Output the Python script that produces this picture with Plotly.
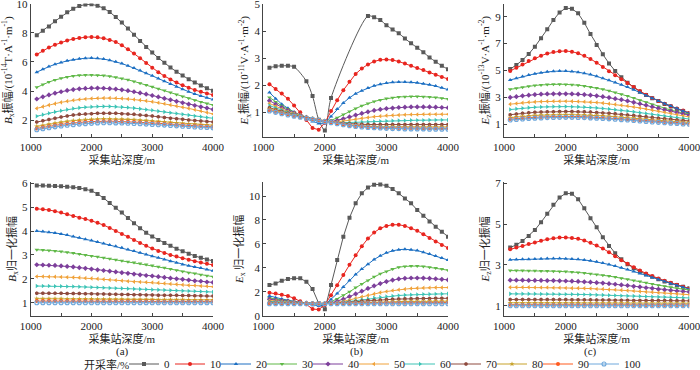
import plotly.graph_objects as go

FONT = "Liberation Serif, Times New Roman, Noto Sans CJK SC, serif"

depth = [1100, 1200, 1300, 1400, 1500, 1600, 1700, 1800, 1900, 2000,
         2100, 2200, 2300, 2400, 2500, 2600, 2700, 2800, 2900, 3000,
         3100, 3200, 3300, 3400, 3500, 3600, 3700, 3800, 3900, 4000]
rates = ["0", "10", "20", "30", "40", "50", "60", "70", "80", "90", "100"]

# (a) top: Bx amplitude
bx_amp = [
    [7.85, 8.15, 8.45, 8.8, 9.12, 9.42, 9.67, 9.86, 9.96, 9.97, 9.88, 9.7, 9.44, 9.1, 8.72, 8.3, 7.88, 7.45, 7.04, 6.65, 6.28, 5.94, 5.62, 5.33, 5.06, 4.81, 4.59, 4.38, 4.19, 4.02],
    [6.52, 6.78, 7.0, 7.18, 7.34, 7.48, 7.58, 7.66, 7.71, 7.73, 7.7, 7.63, 7.52, 7.38, 7.15, 6.88, 6.58, 6.26, 5.93, 5.6, 5.3, 5.03, 4.79, 4.58, 4.39, 4.22, 4.07, 3.94, 3.83, 3.73],
    [5.3, 5.5, 5.68, 5.84, 5.97, 6.08, 6.16, 6.22, 6.26, 6.27, 6.25, 6.2, 6.12, 6.02, 5.89, 5.74, 5.58, 5.41, 5.23, 5.05, 4.86, 4.67, 4.48, 4.3, 4.12, 3.95, 3.8, 3.66, 3.53, 3.41],
    [4.25, 4.45, 4.62, 4.76, 4.88, 4.97, 5.04, 5.08, 5.1, 5.1, 5.09, 5.06, 5.01, 4.94, 4.86, 4.77, 4.66, 4.54, 4.42, 4.3, 4.16, 4.03, 3.89, 3.76, 3.62, 3.5, 3.37, 3.25, 3.14, 3.03],
    [3.45, 3.6, 3.73, 3.85, 3.95, 4.04, 4.1, 4.15, 4.18, 4.2, 4.2, 4.19, 4.17, 4.13, 4.08, 4.02, 3.95, 3.87, 3.78, 3.69, 3.59, 3.49, 3.39, 3.29, 3.19, 3.09, 3.0, 2.91, 2.82, 2.73],
    [2.8, 2.92, 3.03, 3.13, 3.22, 3.3, 3.36, 3.41, 3.45, 3.48, 3.5, 3.51, 3.51, 3.5, 3.48, 3.45, 3.41, 3.37, 3.32, 3.26, 3.19, 3.12, 3.04, 2.96, 2.88, 2.8, 2.71, 2.62, 2.52, 2.42],
    [2.26, 2.37, 2.47, 2.56, 2.64, 2.72, 2.79, 2.84, 2.88, 2.91, 2.93, 2.94, 2.94, 2.92, 2.89, 2.86, 2.82, 2.77, 2.72, 2.67, 2.61, 2.56, 2.5, 2.45, 2.39, 2.34, 2.28, 2.23, 2.17, 2.12],
    [1.86, 1.95, 2.04, 2.13, 2.21, 2.28, 2.34, 2.39, 2.42, 2.44, 2.46, 2.47, 2.47, 2.46, 2.44, 2.42, 2.39, 2.35, 2.31, 2.27, 2.22, 2.18, 2.13, 2.09, 2.05, 2.01, 1.97, 1.94, 1.9, 1.87],
    [1.56, 1.64, 1.72, 1.79, 1.86, 1.91, 1.96, 2.0, 2.03, 2.05, 2.07, 2.08, 2.08, 2.07, 2.06, 2.04, 2.02, 1.99, 1.97, 1.94, 1.9, 1.87, 1.83, 1.8, 1.77, 1.74, 1.71, 1.68, 1.66, 1.64],
    [1.42, 1.5, 1.57, 1.64, 1.7, 1.75, 1.8, 1.84, 1.87, 1.89, 1.91, 1.92, 1.92, 1.91, 1.9, 1.88, 1.86, 1.84, 1.82, 1.8, 1.77, 1.74, 1.71, 1.68, 1.65, 1.62, 1.6, 1.58, 1.55, 1.53],
    [1.33, 1.4, 1.47, 1.53, 1.59, 1.64, 1.68, 1.72, 1.75, 1.77, 1.8, 1.81, 1.81, 1.8, 1.79, 1.78, 1.76, 1.74, 1.72, 1.7, 1.67, 1.65, 1.62, 1.6, 1.57, 1.55, 1.52, 1.5, 1.48, 1.46],
]

# (b) top: Ex amplitude (None = no point drawn)
ex_amp = [
    [2.65, 2.7, 2.72, 2.72, 2.68, None, 2.15, 1.6, 0.73, 0.33, 1.53, None, None, None, None, None, 4.56, 4.51, 4.41, 4.22, 4.06, 3.92, 3.73, 3.55, 3.39, 3.22, 3.03, 2.87, 2.72, 2.59],
    [2.04, 1.86, 1.7, 1.5, 1.25, 1.0, 0.72, 0.42, 0.36, 0.62, 1.05, 1.45, 1.82, 2.13, 2.42, 2.62, 2.77, 2.88, 2.94, 2.95, 2.93, 2.88, 2.8, 2.72, 2.64, 2.56, 2.47, 2.39, 2.31, 2.23],
    [1.73, 1.5, 1.3, 1.15, 1.0, 0.87, 0.76, 0.66, 0.59, 0.6, 0.85, 1.12, 1.35, 1.54, 1.69, 1.8, 1.9, 1.98, 2.04, 2.08, 2.11, 2.12, 2.12, 2.11, 2.09, 2.06, 2.02, 1.97, 1.91, 1.84],
    [1.55, 1.38, 1.24, 1.12, 1.0, 0.9, 0.81, 0.73, 0.67, 0.64, 0.7, 0.8, 0.92, 1.03, 1.14, 1.24, 1.33, 1.4, 1.46, 1.51, 1.54, 1.57, 1.58, 1.59, 1.59, 1.58, 1.57, 1.55, 1.52, 1.49],
    [1.43, 1.3, 1.18, 1.07, 0.98, 0.9, 0.82, 0.75, 0.69, 0.65, 0.66, 0.7, 0.76, 0.83, 0.9, 0.96, 1.02, 1.07, 1.11, 1.14, 1.16, 1.18, 1.19, 1.2, 1.2, 1.2, 1.2, 1.19, 1.18, 1.17],
    [1.33, 1.22, 1.12, 1.03, 0.96, 0.89, 0.82, 0.76, 0.71, 0.66, 0.64, 0.65, 0.68, 0.71, 0.75, 0.78, 0.81, 0.84, 0.86, 0.88, 0.89, 0.9, 0.91, 0.92, 0.92, 0.93, 0.93, 0.93, 0.93, 0.93],
    [1.25, 1.16, 1.08, 1.0, 0.93, 0.87, 0.81, 0.76, 0.71, 0.67, 0.64, 0.62, 0.62, 0.62, 0.63, 0.64, 0.65, 0.66, 0.67, 0.68, 0.69, 0.7, 0.7, 0.71, 0.71, 0.71, 0.72, 0.72, 0.72, 0.72],
    [1.17, 1.1, 1.03, 0.97, 0.91, 0.86, 0.81, 0.77, 0.73, 0.69, 0.65, 0.62, 0.6, 0.58, 0.57, 0.56, 0.55, 0.55, 0.55, 0.55, 0.55, 0.55, 0.55, 0.55, 0.55, 0.55, 0.55, 0.55, 0.55, 0.55],
    [1.12, 1.06, 1.0, 0.94, 0.89, 0.84, 0.8, 0.76, 0.72, 0.68, 0.64, 0.6, 0.57, 0.54, 0.52, 0.5, 0.49, 0.48, 0.47, 0.47, 0.47, 0.46, 0.46, 0.46, 0.46, 0.46, 0.46, 0.46, 0.46, 0.46],
    [1.08, 1.02, 0.97, 0.92, 0.87, 0.83, 0.79, 0.75, 0.71, 0.67, 0.63, 0.59, 0.56, 0.53, 0.5, 0.48, 0.46, 0.45, 0.44, 0.43, 0.43, 0.42, 0.42, 0.42, 0.42, 0.41, 0.41, 0.41, 0.41, 0.41],
    [1.05, 1.0, 0.95, 0.9, 0.86, 0.82, 0.78, 0.74, 0.7, 0.66, 0.62, 0.58, 0.54, 0.51, 0.48, 0.46, 0.44, 0.43, 0.42, 0.41, 0.4, 0.4, 0.39, 0.39, 0.39, 0.39, 0.38, 0.38, 0.38, 0.38],
]

# (c) top: Ez amplitude
ez_amp = [
    [5.11, 5.41, 5.78, 6.23, 6.77, 7.39, 8.06, 8.75, 9.32, 9.64, 9.59, 9.25, 8.55, 7.71, 6.9, 6.2, 5.53, 4.97, 4.5, 4.1, 3.75, 3.43, 3.18, 2.94, 2.74, 2.51, 2.32, 2.12, 2.0, 1.82],
    [4.97, 5.2, 5.45, 5.7, 5.92, 6.1, 6.26, 6.37, 6.43, 6.45, 6.4, 6.28, 6.1, 5.86, 5.58, 5.27, 4.95, 4.65, 4.36, 4.07, 3.77, 3.47, 3.2, 2.96, 2.74, 2.54, 2.36, 2.18, 2.02, 1.84],
    [4.3, 4.42, 4.55, 4.66, 4.76, 4.84, 4.9, 4.94, 4.96, 4.96, 4.93, 4.88, 4.8, 4.7, 4.57, 4.43, 4.27, 4.11, 3.94, 3.77, 3.57, 3.36, 3.15, 2.94, 2.74, 2.54, 2.36, 2.18, 2.0, 1.82],
    [3.6, 3.68, 3.76, 3.83, 3.89, 3.93, 3.96, 3.98, 3.98, 3.97, 3.95, 3.91, 3.85, 3.78, 3.7, 3.6, 3.49, 3.37, 3.24, 3.1, 2.95, 2.8, 2.64, 2.48, 2.33, 2.19, 2.06, 1.95, 1.85, 1.76],
    [3.0, 3.06, 3.12, 3.17, 3.21, 3.24, 3.26, 3.27, 3.27, 3.27, 3.26, 3.24, 3.21, 3.17, 3.12, 3.06, 2.99, 2.91, 2.83, 2.74, 2.64, 2.53, 2.42, 2.3, 2.19, 2.08, 1.98, 1.88, 1.78, 1.68],
    [2.5, 2.55, 2.6, 2.64, 2.67, 2.69, 2.71, 2.72, 2.72, 2.72, 2.71, 2.7, 2.68, 2.65, 2.62, 2.58, 2.53, 2.48, 2.42, 2.36, 2.29, 2.22, 2.14, 2.06, 1.98, 1.9, 1.82, 1.73, 1.64, 1.55],
    [2.1, 2.15, 2.2, 2.24, 2.27, 2.29, 2.31, 2.32, 2.32, 2.32, 2.31, 2.3, 2.28, 2.25, 2.22, 2.18, 2.14, 2.09, 2.04, 1.99, 1.93, 1.87, 1.8, 1.74, 1.68, 1.62, 1.56, 1.5, 1.45, 1.4],
    [1.72, 1.77, 1.82, 1.86, 1.89, 1.91, 1.93, 1.94, 1.95, 1.95, 1.95, 1.94, 1.93, 1.91, 1.88, 1.85, 1.82, 1.78, 1.74, 1.7, 1.65, 1.61, 1.56, 1.51, 1.46, 1.42, 1.37, 1.33, 1.29, 1.25],
    [1.5, 1.55, 1.59, 1.63, 1.66, 1.68, 1.7, 1.71, 1.72, 1.72, 1.72, 1.71, 1.7, 1.68, 1.66, 1.63, 1.6, 1.57, 1.53, 1.5, 1.46, 1.42, 1.38, 1.34, 1.3, 1.27, 1.23, 1.2, 1.17, 1.14],
    [1.39, 1.43, 1.47, 1.5, 1.53, 1.55, 1.57, 1.58, 1.59, 1.59, 1.59, 1.58, 1.57, 1.55, 1.53, 1.51, 1.48, 1.45, 1.42, 1.38, 1.35, 1.31, 1.28, 1.24, 1.21, 1.17, 1.14, 1.11, 1.08, 1.05],
    [1.32, 1.36, 1.4, 1.43, 1.46, 1.48, 1.5, 1.51, 1.52, 1.52, 1.52, 1.51, 1.5, 1.48, 1.46, 1.44, 1.41, 1.38, 1.35, 1.32, 1.29, 1.25, 1.22, 1.18, 1.15, 1.12, 1.09, 1.06, 1.03, 1.0],
]

# (a) bottom: Bx normalized amplitude
bx_norm = [
    [5.9, 5.9, 5.89, 5.88, 5.87, 5.85, 5.83, 5.8, 5.75, 5.68, 5.55, 5.38, 5.17, 4.97, 4.77, 4.55, 4.33, 4.12, 3.93, 3.77, 3.63, 3.5, 3.38, 3.26, 3.15, 3.05, 2.96, 2.88, 2.81, 2.75],
    [4.93, 4.91, 4.88, 4.83, 4.77, 4.7, 4.63, 4.56, 4.5, 4.43, 4.35, 4.25, 4.13, 4.0, 3.88, 3.76, 3.63, 3.5, 3.38, 3.27, 3.17, 3.08, 3.0, 2.93, 2.86, 2.8, 2.74, 2.68, 2.63, 2.58],
    [4.0, 3.98, 3.95, 3.92, 3.88, 3.83, 3.77, 3.72, 3.66, 3.6, 3.54, 3.48, 3.42, 3.36, 3.3, 3.23, 3.16, 3.09, 3.02, 2.95, 2.88, 2.81, 2.74, 2.67, 2.6, 2.55, 2.5, 2.45, 2.39, 2.34],
    [3.22, 3.21, 3.19, 3.17, 3.14, 3.11, 3.08, 3.04, 3.0, 2.96, 2.92, 2.88, 2.84, 2.8, 2.76, 2.72, 2.68, 2.64, 2.6, 2.56, 2.51, 2.46, 2.41, 2.36, 2.31, 2.26, 2.22, 2.17, 2.13, 2.09],
    [2.59, 2.58, 2.57, 2.56, 2.54, 2.52, 2.5, 2.47, 2.44, 2.41, 2.38, 2.35, 2.32, 2.29, 2.26, 2.23, 2.2, 2.17, 2.14, 2.12, 2.09, 2.06, 2.03, 2.0, 1.98, 1.95, 1.92, 1.9, 1.87, 1.85],
    [2.1, 2.1, 2.09, 2.09, 2.08, 2.07, 2.06, 2.05, 2.03, 2.02, 2.0, 1.98, 1.96, 1.94, 1.92, 1.9, 1.88, 1.87, 1.86, 1.85, 1.83, 1.81, 1.79, 1.77, 1.75, 1.73, 1.72, 1.7, 1.69, 1.67],
    [1.7, 1.7, 1.7, 1.69, 1.69, 1.68, 1.68, 1.67, 1.66, 1.65, 1.64, 1.63, 1.62, 1.61, 1.6, 1.59, 1.58, 1.57, 1.56, 1.55, 1.54, 1.53, 1.52, 1.51, 1.5, 1.49, 1.48, 1.47, 1.46, 1.45],
    [1.4, 1.4, 1.4, 1.4, 1.4, 1.39, 1.39, 1.39, 1.38, 1.38, 1.37, 1.37, 1.36, 1.36, 1.35, 1.35, 1.34, 1.34, 1.33, 1.33, 1.32, 1.32, 1.31, 1.31, 1.3, 1.3, 1.29, 1.29, 1.28, 1.28],
    [1.17, 1.17, 1.17, 1.17, 1.17, 1.16, 1.16, 1.16, 1.16, 1.16, 1.15, 1.15, 1.15, 1.15, 1.15, 1.14, 1.14, 1.14, 1.14, 1.14, 1.13, 1.13, 1.13, 1.13, 1.13, 1.12, 1.12, 1.12, 1.12, 1.12],
    [1.07, 1.07, 1.07, 1.07, 1.07, 1.07, 1.07, 1.07, 1.07, 1.06, 1.06, 1.06, 1.06, 1.06, 1.06, 1.06, 1.06, 1.06, 1.06, 1.06, 1.05, 1.05, 1.05, 1.05, 1.05, 1.05, 1.05, 1.05, 1.05, 1.05],
    [1.0, 1.0, 1.0, 1.0, 1.0, 1.0, 1.0, 1.0, 1.0, 1.0, 1.0, 1.0, 1.0, 1.0, 1.0, 1.0, 1.0, 1.0, 1.0, 1.0, 1.0, 1.0, 1.0, 1.0, 1.0, 1.0, 1.0, 1.0, 1.0, 1.0],
]

# (b) bottom: Ex normalized amplitude
ex_norm = [
    [2.56, 2.7, 2.92, 3.06, 3.12, 3.12, 2.84, 2.23, 1.03, 0.53, 2.56, 4.65, 6.6, 8.19, 9.39, 10.22, 10.72, 10.95, 10.97, 10.86, 10.58, 10.22, 9.8, 9.39, 8.83, 8.36, 7.86, 7.44, 7.02, 6.6],
    [1.92, 1.85, 1.75, 1.65, 1.45, 1.2, 0.95, 0.55, 0.52, 0.9, 1.7, 2.55, 3.4, 4.25, 5.05, 5.8, 6.45, 6.95, 7.3, 7.5, 7.6, 7.6, 7.5, 7.3, 7.1, 6.8, 6.5, 6.2, 5.9, 5.65],
    [1.65, 1.5, 1.4, 1.3, 1.2, 1.1, 0.98, 0.88, 0.82, 0.9, 1.35, 1.85, 2.4, 2.95, 3.45, 3.9, 4.3, 4.7, 5.0, 5.25, 5.42, 5.52, 5.55, 5.52, 5.45, 5.3, 5.15, 4.98, 4.83, 4.65],
    [1.48, 1.38, 1.3, 1.24, 1.17, 1.1, 1.04, 0.98, 0.96, 0.97, 1.15, 1.4, 1.7, 2.0, 2.35, 2.65, 2.95, 3.25, 3.5, 3.7, 3.9, 4.05, 4.12, 4.15, 4.15, 4.12, 4.05, 3.98, 3.9, 3.8],
    [1.38, 1.3, 1.24, 1.19, 1.14, 1.1, 1.06, 1.02, 1.0, 0.99, 1.07, 1.2, 1.38, 1.6, 1.82, 2.05, 2.28, 2.5, 2.68, 2.85, 2.98, 3.07, 3.12, 3.15, 3.15, 3.14, 3.12, 3.08, 3.04, 3.0],
    [1.27, 1.22, 1.18, 1.15, 1.12, 1.09, 1.06, 1.04, 1.02, 1.0, 1.03, 1.1, 1.2, 1.32, 1.45, 1.58, 1.7, 1.82, 1.93, 2.02, 2.1, 2.17, 2.22, 2.27, 2.3, 2.32, 2.34, 2.35, 2.35, 2.35],
    [1.19, 1.16, 1.13, 1.11, 1.09, 1.07, 1.05, 1.03, 1.02, 1.01, 1.03, 1.07, 1.13, 1.2, 1.28, 1.35, 1.42, 1.49, 1.55, 1.6, 1.65, 1.69, 1.72, 1.75, 1.77, 1.79, 1.8, 1.81, 1.82, 1.83],
    [1.12, 1.1, 1.08, 1.07, 1.06, 1.05, 1.04, 1.03, 1.02, 1.02, 1.03, 1.06, 1.1, 1.14, 1.18, 1.22, 1.26, 1.29, 1.32, 1.35, 1.37, 1.39, 1.41, 1.42, 1.43, 1.44, 1.44, 1.45, 1.45, 1.45],
    [1.07, 1.06, 1.05, 1.04, 1.04, 1.03, 1.03, 1.02, 1.01, 1.01, 1.02, 1.03, 1.05, 1.07, 1.09, 1.1, 1.12, 1.13, 1.15, 1.16, 1.17, 1.18, 1.19, 1.19, 1.2, 1.2, 1.21, 1.21, 1.21, 1.21],
    [1.03, 1.03, 1.02, 1.02, 1.02, 1.01, 1.01, 1.01, 1.01, 1.0, 1.01, 1.02, 1.03, 1.04, 1.05, 1.05, 1.06, 1.07, 1.07, 1.08, 1.08, 1.08, 1.09, 1.09, 1.09, 1.09, 1.1, 1.1, 1.1, 1.1],
    [1.0, 1.0, 1.0, 1.0, 1.0, 1.0, 1.0, 1.0, 1.0, 1.0, 1.0, 1.0, 1.0, 1.0, 1.0, 1.0, 1.0, 1.0, 1.0, 1.0, 1.0, 1.0, 1.0, 1.0, 1.0, 1.0, 1.0, 1.0, 1.0, 1.0],
]

# (c) bottom: Ez normalized amplitude
ez_norm = [
    [3.85, 3.98, 4.17, 4.42, 4.71, 5.09, 5.5, 5.94, 6.3, 6.51, 6.48, 6.22, 5.77, 5.28, 4.84, 4.35, 3.93, 3.57, 3.27, 3.03, 2.83, 2.67, 2.54, 2.42, 2.29, 2.18, 2.1, 2.02, 1.93, 1.85],
    [3.76, 3.85, 3.93, 4.02, 4.1, 4.18, 4.25, 4.3, 4.34, 4.34, 4.32, 4.28, 4.2, 4.08, 3.95, 3.8, 3.62, 3.42, 3.23, 3.05, 2.88, 2.72, 2.58, 2.45, 2.33, 2.22, 2.12, 2.03, 1.93, 1.83],
    [3.25, 3.26, 3.27, 3.28, 3.29, 3.3, 3.31, 3.31, 3.31, 3.3, 3.29, 3.27, 3.24, 3.2, 3.15, 3.09, 3.02, 2.94, 2.86, 2.77, 2.68, 2.58, 2.48, 2.38, 2.28, 2.18, 2.08, 1.99, 1.9, 1.81],
    [2.72, 2.72, 2.72, 2.71, 2.71, 2.7, 2.7, 2.69, 2.68, 2.67, 2.65, 2.63, 2.6, 2.57, 2.53, 2.49, 2.45, 2.4, 2.35, 2.3, 2.24, 2.18, 2.12, 2.06, 2.0, 1.95, 1.9, 1.85, 1.81, 1.77],
    [2.25, 2.25, 2.25, 2.24, 2.24, 2.24, 2.23, 2.23, 2.22, 2.21, 2.2, 2.19, 2.17, 2.15, 2.13, 2.11, 2.08, 2.05, 2.02, 1.99, 1.95, 1.92, 1.88, 1.85, 1.81, 1.78, 1.75, 1.72, 1.7, 1.67],
    [1.9, 1.9, 1.9, 1.9, 1.89, 1.89, 1.89, 1.88, 1.88, 1.87, 1.86, 1.86, 1.85, 1.84, 1.82, 1.81, 1.79, 1.78, 1.76, 1.74, 1.72, 1.7, 1.68, 1.66, 1.64, 1.62, 1.6, 1.58, 1.56, 1.54],
    [1.58, 1.58, 1.58, 1.58, 1.58, 1.57, 1.57, 1.57, 1.56, 1.56, 1.56, 1.55, 1.55, 1.54, 1.53, 1.52, 1.51, 1.5, 1.49, 1.48, 1.47, 1.46, 1.45, 1.44, 1.43, 1.42, 1.41, 1.4, 1.39, 1.38],
    [1.3, 1.3, 1.3, 1.3, 1.3, 1.3, 1.3, 1.3, 1.3, 1.3, 1.29, 1.29, 1.29, 1.29, 1.28, 1.28, 1.28, 1.27, 1.27, 1.27, 1.26, 1.26, 1.26, 1.25, 1.25, 1.25, 1.25, 1.24, 1.24, 1.24],
    [1.14, 1.14, 1.14, 1.14, 1.14, 1.14, 1.14, 1.14, 1.14, 1.14, 1.14, 1.14, 1.13, 1.13, 1.13, 1.13, 1.13, 1.13, 1.13, 1.13, 1.12, 1.12, 1.12, 1.12, 1.12, 1.12, 1.12, 1.12, 1.12, 1.12],
    [1.05, 1.05, 1.05, 1.05, 1.05, 1.05, 1.05, 1.05, 1.05, 1.05, 1.05, 1.05, 1.05, 1.05, 1.05, 1.05, 1.05, 1.05, 1.05, 1.05, 1.04, 1.04, 1.04, 1.04, 1.04, 1.04, 1.04, 1.04, 1.04, 1.04],
    [1.0, 1.0, 1.0, 1.0, 1.0, 1.0, 1.0, 1.0, 1.0, 1.0, 1.0, 1.0, 1.0, 1.0, 1.0, 1.0, 1.0, 1.0, 1.0, 1.0, 1.0, 1.0, 1.0, 1.0, 1.0, 1.0, 1.0, 1.0, 1.0, 1.0],
]

x_ticks = [1000, 1500, 2000, 2500, 3000, 3500, 4000]
x_ticktext = ["1000", "", "2000", "", "3000", "", "4000"]

colors = ["#595959", "#e8251f", "#1c6fc2", "#5fb847", "#7d3f9b", "#f0a23a",
          "#3cc3b5", "#8e4a3e", "#c7a22a", "#ff5a1f", "#6fa8dc"]
symbols = ["square", "circle", "triangle-up", "triangle-down", "diamond",
           "triangle-left", "triangle-right", "hexagon", "star", "circle", "circle-open"]

panels = [
    (bx_amp, 1, [0.83, 10.03], [2, 4, 6, 8, 10],
     "<i>B</i><sub>x</sub>振幅/(10<sup>-14</sup>T·A<sup>-1</sup>·m<sup>-1</sup>)"),
    (ex_amp, 2, [0.09, 5.02], [1, 2, 3, 4, 5],
     "<i>E</i><sub>x</sub>振幅/(10<sup>-11</sup>V·A<sup>-1</sup>·m<sup>-2</sup>)"),
    (ez_amp, 3, [0.06, 9.98], [1, 3, 5, 7, 9],
     "<i>E</i><sub>z</sub>振幅/(10<sup>-13</sup>V·A<sup>-1</sup>·m<sup>-2</sup>)"),
    (bx_norm, 4, [0.46, 6.05], [1, 2, 3, 4, 5, 6],
     "<i>B</i><sub>x</sub>归一化振幅"),
    (ex_norm, 5, [0, 11.17], [0, 2, 4, 6, 8, 10],
     "<i>E</i><sub>x</sub> 归一化振幅"),
    (ez_norm, 6, [0.51, 7.06], [1, 3, 5, 7],
     "<i>E</i><sub>z</sub>归一化振幅"),
]

W, H = 700, 370
col_px = [(30.7, 213.0), (263.3, 448.0), (504.0, 689.3)]
row_px = [(3.5, 137.0), (182.0, 315.7)]

fig = go.Figure()
layout = dict(
    width=W, height=H,
    margin=dict(l=0, r=0, t=0, b=0, autoexpand=False),
    paper_bgcolor="white", plot_bgcolor="white",
    font=dict(family=FONT, size=11, color="#222222"),
    showlegend=True,
)

for data, k, yr, yt, ytitle in panels:
    col = (k - 1) % 3
    row = (k - 1) // 3
    xs = "x" if k == 1 else "x%d" % k
    ys = "y" if k == 1 else "y%d" % k
    for i, series in enumerate(data):
        spline = (k == 2 and i == 0)
        fig.add_trace(go.Scatter(
            x=depth, y=series, xaxis=xs, yaxis=ys,
            mode="lines+markers",
            name=rates[i], legendgroup=rates[i], showlegend=(k == 1),
            legendwidth=(24 if i == len(rates) - 1 else 1),
            connectgaps=True,
            line=dict(color=colors[i], width=1,
                      shape="spline" if spline else "linear",
                      smoothing=0.8),
            marker=dict(symbol=symbols[i], size=4, color=colors[i],
                        line=dict(width=1.1 if symbols[i] == "circle-open" else 0,
                                  color=colors[i])),
        ))
    x0, x1 = col_px[col]
    y0, y1 = row_px[row]
    axis_common = dict(showline=True, linecolor="#444444", linewidth=1,
                       ticks="inside", ticklen=3, tickcolor="#444444",
                       showgrid=False, zeroline=False,
                       ticklabeloverflow="allow",
                       tickfont=dict(family=FONT, size=11, color="#222222"))
    layout["xaxis" if k == 1 else "xaxis%d" % k] = dict(
        domain=[x0 / W, x1 / W], anchor=ys, range=[1000, 4000],
        tickvals=x_ticks, ticktext=x_ticktext,
        title=dict(text="采集站深度/m", standoff=0,
                   font=dict(family=FONT, size=11, color="#222222")),
        **axis_common)
    layout["yaxis" if k == 1 else "yaxis%d" % k] = dict(
        domain=[1 - y1 / H, 1 - y0 / H], anchor=xs, range=yr,
        tickvals=yt,
        title=dict(text=ytitle, standoff=3,
                   font=dict(family=FONT, size=11, color="#222222")),
        **axis_common)

layout["annotations"] = [
    dict(text=t, x=xc / W, y=1 - 351 / H, xref="paper", yref="paper",
         xanchor="center", yanchor="middle", showarrow=False,
         font=dict(family=FONT, size=11, color="#222222"))
    for t, xc in [("(a)", 122), ("(b)", 356), ("(c)", 590)]
] + [
    dict(text="开采率/%", x=82 / W, y=1 - 364 / H, xref="paper", yref="paper",
         xanchor="left", yanchor="middle", showarrow=False,
         font=dict(family=FONT, size=11, color="#222222"))
]
layout["legend"] = dict(
    orientation="h", x=124 / W, xanchor="left", y=1 - 364 / H, yanchor="middle",
    font=dict(family=FONT, size=11, color="#222222"),
    entrywidth=1, entrywidthmode="pixels", itemwidth=30,
    bgcolor="rgba(0,0,0,0)", tracegroupgap=0,
)

fig.update_layout(**layout)
fig.write_html(
    "out.html",
    config={"displayModeBar": False},
    post_script="document.body.style.margin='0px';document.body.style.overflow='hidden';",
)
